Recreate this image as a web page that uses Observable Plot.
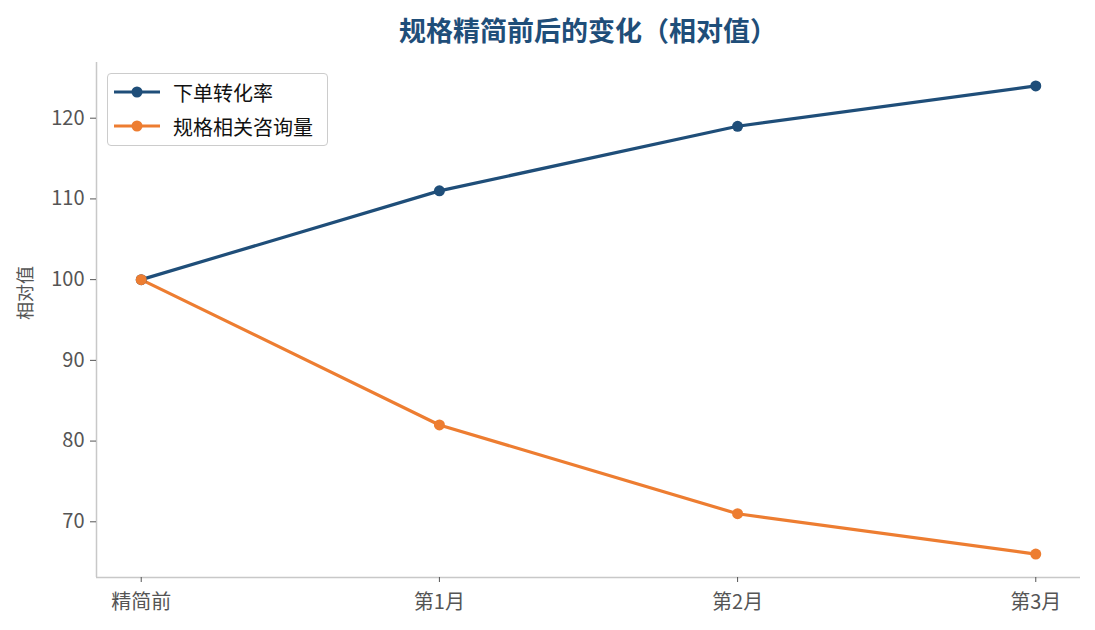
<!DOCTYPE html>
<html>
<head>
<meta charset="utf-8">
<script src="https://cdn.jsdelivr.net/npm/d3@7"></script>
<script src="https://cdn.jsdelivr.net/npm/@observablehq/plot@0.6"></script>
<style>
  body { margin: 0; background: #fff; font-family: "Noto Sans CJK SC", "Noto Sans", sans-serif; }
  #wrap { position: relative; width: 1095px; height: 630px; }
  #title { position: absolute; left: 96px; width: 984px; top: 11px; text-align: center;
           font-size: 27px; font-weight: bold; color: #1f4e79; line-height: 38px; }
  #chart { position: absolute; left: 0; top: 50px; }
  #legend { position: absolute; left: 107px; top: 73px; width: 219px; height: 71px;
            border: 1.3px solid #ccc; border-radius: 4px; background: rgba(255,255,255,0.85); }
  .item { position: absolute; left: 5px; height: 30px; display: flex; align-items: center;
          font-size: 20px; color: #111; }
  .item svg { margin-right: 12px; }
</style>
</head>
<body>
<div id="wrap">
  <div id="title">规格精简前后的变化（相对值）</div>
  <div id="chart"></div>
  <div id="legend"></div>
</div>
<script>
const categories = ["精简前", "第1月", "第2月", "第3月"];
const seriesNames = ["下单转化率", "规格相关咨询量"];
const conversion = [100, 111, 119, 124];
const inquiries = [100, 82, 71, 66];
const yTicks = [70, 80, 90, 100, 110, 120];
const colors = ["#1f4e79", "#ed7d31"];

const data = [
  ...conversion.map((v, i) => ({ series: seriesNames[0], i, value: v })),
  ...inquiries.map((v, i) => ({ series: seriesNames[1], i, value: v }))
];

const allVals = conversion.concat(inquiries);
const yMin = d3.min(allVals), yMax = d3.max(allVals);
const yPad = (yMax - yMin) * 0.05;
const yDomain = [yMin - yPad, yMax + yPad];
const xPad = (categories.length - 1) * 0.05;
const xDomain = [-xPad, categories.length - 1 + xPad];

const chart = Plot.plot({
  width: 1095,
  height: 580,
  marginLeft: 96,
  marginRight: 15,
  marginTop: 12,
  marginBottom: 53,
  style: { fontFamily: "Noto Sans CJK SC, Noto Sans, sans-serif", fontSize: "20px", color: "#555", background: "white" },
  x: { domain: xDomain, ticks: categories.map((_, i) => i), tickFormat: i => categories[i] },
  y: { domain: yDomain, ticks: yTicks },
  color: { domain: seriesNames, range: colors },
  marks: [
    Plot.ruleY([yDomain[0]], { stroke: "#c8c8c8", strokeWidth: 1.5 }),
    Plot.ruleX([xDomain[0]], { stroke: "#c8c8c8", strokeWidth: 1.5 }),
    Plot.axisX({ ticks: categories.map((_, i) => i), tickFormat: i => categories[i], tickSize: 5, tickPadding: 12, stroke: "#555", fill: "#555", fontSize: 20, label: null }),
    Plot.axisY({ ticks: yTicks, tickSize: 6, tickPadding: 6, stroke: "#555", fill: "#555", fontSize: 20, label: null }),
    Plot.line(data, { x: "i", y: "value", z: "series", stroke: "series", strokeWidth: 3.2 }),
    Plot.dot(data, { x: "i", y: "value", fill: "series", r: 5.5 }),
    Plot.text(["相对值"], { frameAnchor: "left", dx: -70, rotate: -90, fill: "#555", fontSize: 18, text: d => d })
  ]
});
document.getElementById("chart").appendChild(chart);

const legend = document.getElementById("legend");
seriesNames.forEach((name, k) => {
  const div = document.createElement("div");
  div.className = "item";
  div.style.top = (3 + k * 34) + "px";
  div.innerHTML = `<svg width="48" height="14"><line x1="1" y1="7" x2="47" y2="7" stroke="${colors[k]}" stroke-width="3.2"/><circle cx="24" cy="7" r="5.5" fill="${colors[k]}"/></svg><span>${name}</span>`;
  legend.appendChild(div);
});
</script>
</body>
</html>
